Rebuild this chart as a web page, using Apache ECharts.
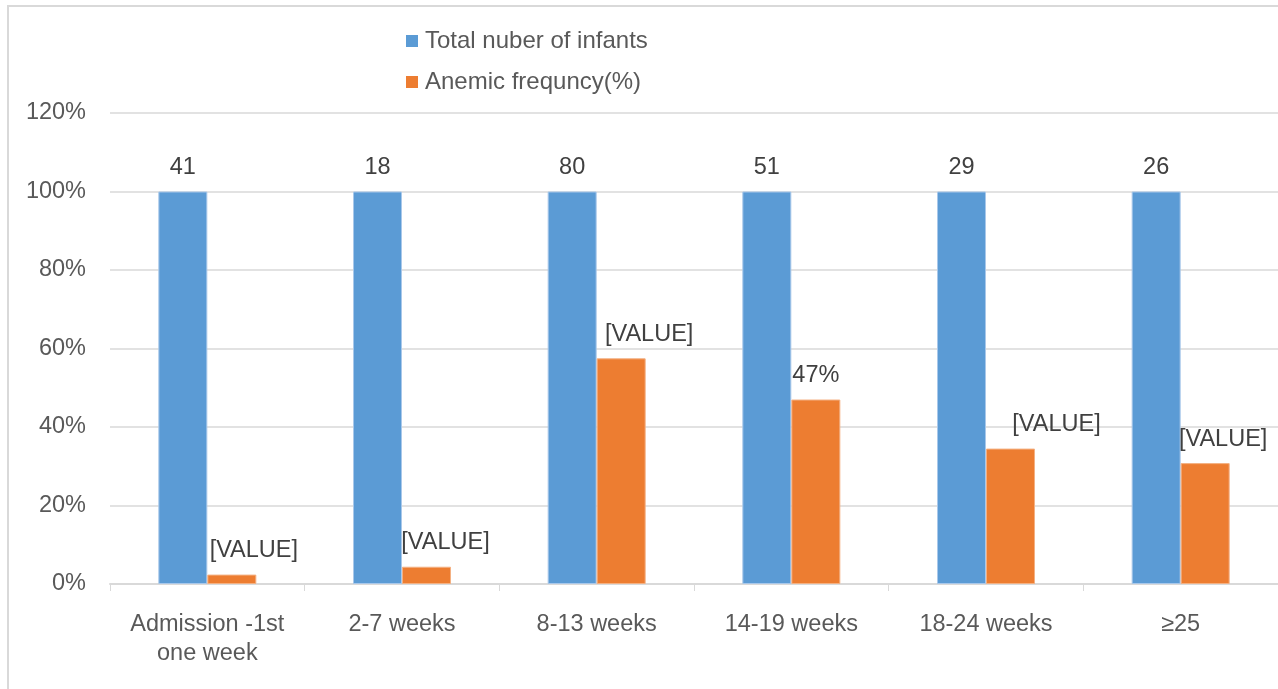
<!DOCTYPE html>
<html>
<head>
<meta charset="utf-8">
<script src="https://cdn.jsdelivr.net/npm/echarts@6/dist/echarts.min.js"></script>
<style>
    html, body { margin: 0; padding: 0; background: #fff; }
    #chart { width: 1278px; height: 689px; }
    #frame {
        position: absolute; left: 7px; top: 5px; width: 1400px; height: 800px;
        border-left: 2px solid #d9d9d9; border-top: 2px solid #d9d9d9;
        pointer-events: none;
    }
</style>
</head>
<body>
<div id="chart"></div>
<div id="frame"></div>
<script>
const categories = ["Admission -1st\none week", "2-7 weeks", "8-13 weeks", "14-19 weeks", "18-24 weeks", "≥25"];
const infantCounts = [41, 18, 80, 51, 29, 26];
const totalShare = [100, 100, 100, 100, 100, 100];
const anemicFreq = [2.4, 4.4, 57.5, 47, 34.5, 30.8];
const anemicLabels = ["[VALUE]", "[VALUE]", "[VALUE]", "47%", "[VALUE]", "[VALUE]"];
const yTicks = [0, 20, 40, 60, 80, 100, 120];

// label nudges mimic where the original labels were dragged to
const labelNudge = [22, 19, 28, 0, 46, 18];

const font = "'Liberation Sans', Arial, sans-serif";
const fs = 23.5;
const chart = echarts.init(document.getElementById("chart"));

chart.setOption({
    animation: false,
    textStyle: { fontFamily: font },
    legend: {
        orient: "vertical",
        left: 401,
        top: 24,
        itemGap: 17,
        itemWidth: 12,
        itemHeight: 12,
        icon: "rect",
        itemStyle: { borderWidth: 0 },
        textStyle: { fontSize: 24, color: "#595959", fontFamily: font, padding: [0, 0, 0, 2] },
        data: ["Total nuber of infants", "Anemic frequncy(%)"]
    },
    grid: { left: 110, right: -1, top: 113, bottom: 105 },
    xAxis: {
        type: "category",
        data: categories,
        axisLine: { lineStyle: { color: "#d9d9d9", width: 2 } },
        axisTick: { show: true, length: 7, lineStyle: { color: "#d9d9d9", width: 1 } },
        axisLabel: { color: "#595959", fontSize: fs, margin: 26, lineHeight: 29, interval: 0, fontFamily: font }
    },
    yAxis: {
        type: "value",
        min: yTicks[0],
        max: yTicks[yTicks.length - 1],
        interval: 20,
        axisLine: { show: false },
        axisTick: { show: false },
        splitLine: { lineStyle: { color: "#d9d9d9", width: 1.5 } },
        axisLabel: { color: "#595959", fontSize: fs, margin: 24, formatter: v => `${v}%`, fontFamily: font }
    },
    series: [
        {
            name: "Total nuber of infants",
            type: "bar",
            barWidth: 49,
            barGap: "0%",
            data: totalShare,
            itemStyle: { color: "#5b9bd5", borderColor: "#a9c8ea", borderWidth: 1 },
            label: {
                show: true,
                position: "top",
                distance: 12,
                color: "#404040",
                fontSize: fs,
                fontFamily: font,
                formatter: p => String(infantCounts[p.dataIndex])
            }
        },
        {
            name: "Anemic frequncy(%)",
            type: "bar",
            barWidth: 49,
            data: anemicFreq.map((v, i) => ({
                value: v,
                label: { offset: [labelNudge[i], 0] }
            })),
            itemStyle: { color: "#ed7d31", borderColor: "#f4b183", borderWidth: 1 },
            label: {
                show: true,
                position: "top",
                distance: 12,
                color: "#404040",
                fontSize: fs,
                fontFamily: font,
                formatter: p => anemicLabels[p.dataIndex]
            }
        }
    ]
});

window.addEventListener("resize", () => chart.resize());
</script>
</body>
</html>
